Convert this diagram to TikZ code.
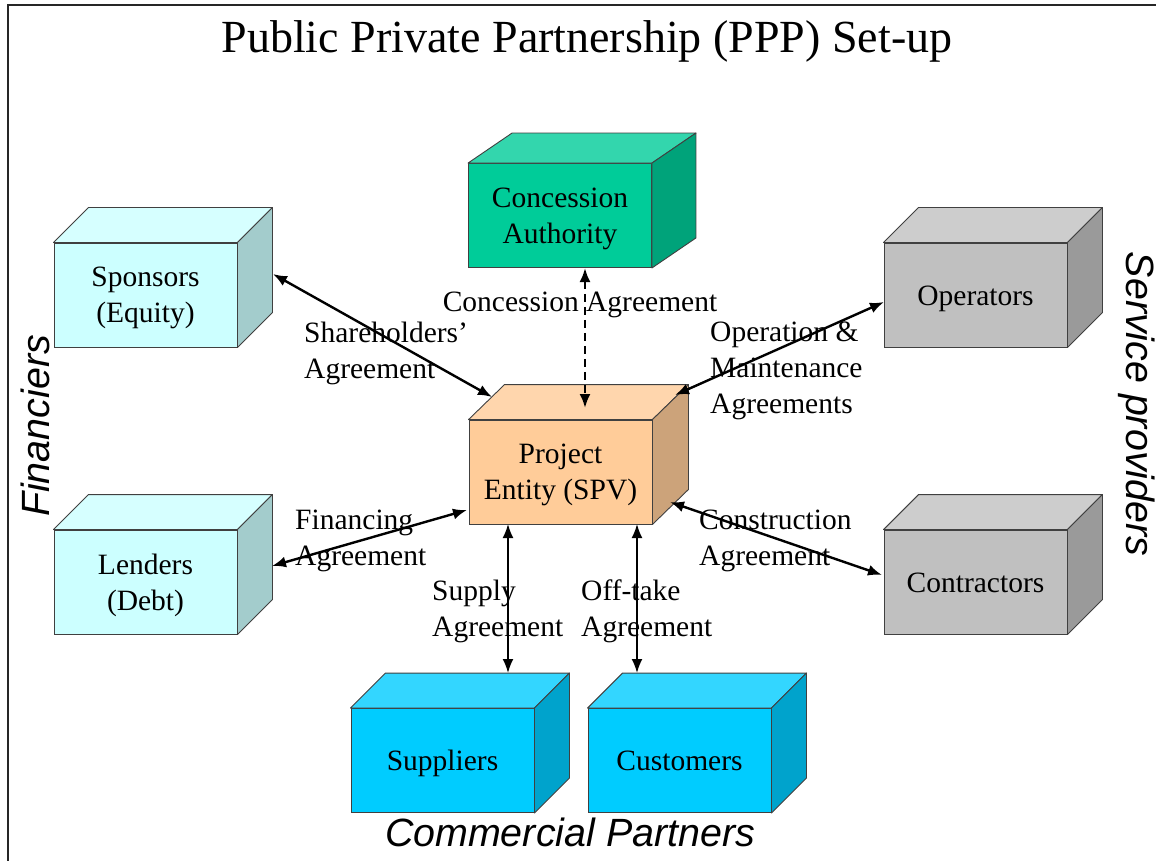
\documentclass[tikz,border=0pt]{standalone}
\usepackage{fontspec}
\setmainfont{Liberation Serif}
\newfontfamily\groupsans{Liberation Sans}
\usetikzlibrary{calc,arrows.meta}

% colours of the five kinds of cube: front, top, side
\definecolor{authF}{HTML}{00CC99}\definecolor{authT}{HTML}{33D6AD}\definecolor{authS}{HTML}{00A37A}
\definecolor{spvF}{HTML}{FFCC99}\definecolor{spvT}{HTML}{FFD6AD}\definecolor{spvS}{HTML}{CCA37A}
\definecolor{finF}{HTML}{CCFFFF}\definecolor{finT}{HTML}{D6FFFF}\definecolor{finS}{HTML}{A3CCCC}
\definecolor{srvF}{HTML}{C0C0C0}\definecolor{srvT}{HTML}{CDCDCD}\definecolor{srvS}{HTML}{9A9A9A}
\definecolor{comF}{HTML}{00CCFF}\definecolor{comT}{HTML}{33D6FF}\definecolor{comS}{HTML}{00A3CC}

\newcommand\bodyfont{\fontsize{29.5}{36}\selectfont}
\newcommand\groupfont{\fontsize{39.4}{44}\selectfont\groupsans\itshape}

% [#1] downward shift of the text, #2 name, #3 centre of front face,
% #4 front, #5 top, #6 side colour, #7 depth offset of the back face, #8 text
\newcommand\cubebox[8][3]{%
  \node[cubefront, fill=#4] (#2) at (#3) {};
  \draw[cubeedge, fill=#5] (#2.north west) -- ($(#2.north west)+(#7)$)
    -- ($(#2.north east)+(#7)$) -- (#2.north east) -- cycle;
  \draw[cubeedge, fill=#6] (#2.north east) -- ($(#2.north east)+(#7)$)
    -- ($(#2.south east)+(#7)$) -- (#2.south east) -- cycle;
  \node[cubetext] (#2-text) at ($(#2.center)+(0,#1)$) {#8};
}

\begin{document}
\begin{tikzpicture}[x=1pt,y=-1pt,
  cubefront/.style={draw=black!75, line width=0.9pt, inner sep=0pt,
    minimum width=183pt, minimum height=104pt},
  cubetext/.style={font=\bodyfont, align=center, inner sep=0pt,
    execute at begin node=\strut, execute at end node=\strut},
  cubeedge/.style={draw=black!75, line width=0.9pt, line join=round},
  rel/.style={draw=black, line width=2.4pt,
    {Latex[length=14pt,width=11pt]}-{Latex[length=14pt,width=11pt]}},
  reldash/.style={rel, dash pattern=on 8pt off 5pt},
  lbl/.style={font=\bodyfont, align=left, anchor=west, inner sep=0pt},
  group/.style={font=\groupfont, inner sep=0pt}
]
\useasboundingbox (0,0) rectangle (1156,861);
\fill[white] (0,0) rectangle (1156,861);

% page frame (only its left and top edges fall inside the page)
\draw[line width=2pt, black!85] (8,861) -- (8,5) -- (1156,5);

\node[font=\fontsize{46}{50}\selectfont, inner sep=0pt] (title) at (587,41)
  {Public Private Partnership (PPP) Set-up};

% cubes
\cubebox[5.5]{auth}{560,215.5}{authF}{authT}{authS}{44,-30}{Concession\\Authority}
\cubebox[5.5]{spon}{145.5,295}{finF}{finT}{finS}{35,-35}{Sponsors\\(Equity)}
\cubebox{oper}{975.5,295}{srvF}{srvT}{srvS}{35,-35}{Operators}
\cubebox[5.5]{spv}{560.5,472}{spvF}{spvT}{spvS}{36,-35}{Project\\Entity (SPV)}
\cubebox[5.5]{lend}{145.5,582}{finF}{finT}{finS}{35,-35}{Lenders\\(Debt)}
\cubebox{contr}{975.5,582}{srvF}{srvT}{srvS}{35,-35}{Contractors}
\cubebox{supp}{442.5,760.5}{comF}{comT}{comS}{35,-35}{Suppliers}
\cubebox{cust}{679.5,760.5}{comF}{comT}{comS}{35,-35}{Customers}

% group captions
\node[group, rotate=90] (financiers) at (35,426) {Financiers};
\node[group, rotate=-90] (service) at (1137,404) {Service providers};
\node[group] (commercial) at (570,832) {Commercial Partners};

% agreement labels
\node[lbl, anchor=center] (lconc) at (580,305) {Concession Agreement};
\node[lbl] (lshare) at (304,353) {Shareholders’\\Agreement};
\node[lbl] (lop) at (710,371) {Operation \&\\Maintenance\\Agreements};
\node[lbl] (lfin) at (295,541) {Financing\\Agreement};
\node[lbl] (lcon) at (699,541) {Construction\\Agreement};
\node[lbl] (lsup) at (432,611) {Supply\\Agreement};
\node[lbl] (loff) at (581,611) {Off-take\\Agreement};

% connector end points on the cube faces
\coordinate (spon-p) at (273,274);
\coordinate (spv-nw) at (492,397);
\coordinate (auth-p) at (585,268);
\coordinate (spv-n) at (585,408);
\coordinate (oper-p) at (884,302);
\coordinate (spv-ne) at (675,395);
\coordinate (lend-p) at (272,566);
\coordinate (spv-w) at (467,510);
\coordinate (spv-se) at (670,502);
\coordinate (contr-p) at (882,575);
\coordinate (spv-s1) at (508,524);
\coordinate (supp-p) at (508,673);
\coordinate (spv-s2) at (637,524);
\coordinate (cust-p) at (637,673);

% agreements
\draw[rel] (spon-p) -- (spv-nw);
\draw[reldash] (auth-p) -- (spv-n);
\draw[rel] (oper-p) -- (spv-ne);
\draw[rel] (lend-p) -- (spv-w);
\draw[rel] (spv-se) -- (contr-p);
\draw[rel, line width=1.8pt] (spv-s1) -- (supp-p);
\draw[rel, line width=1.8pt] (spv-s2) -- (cust-p);
\end{tikzpicture}
\end{document}
